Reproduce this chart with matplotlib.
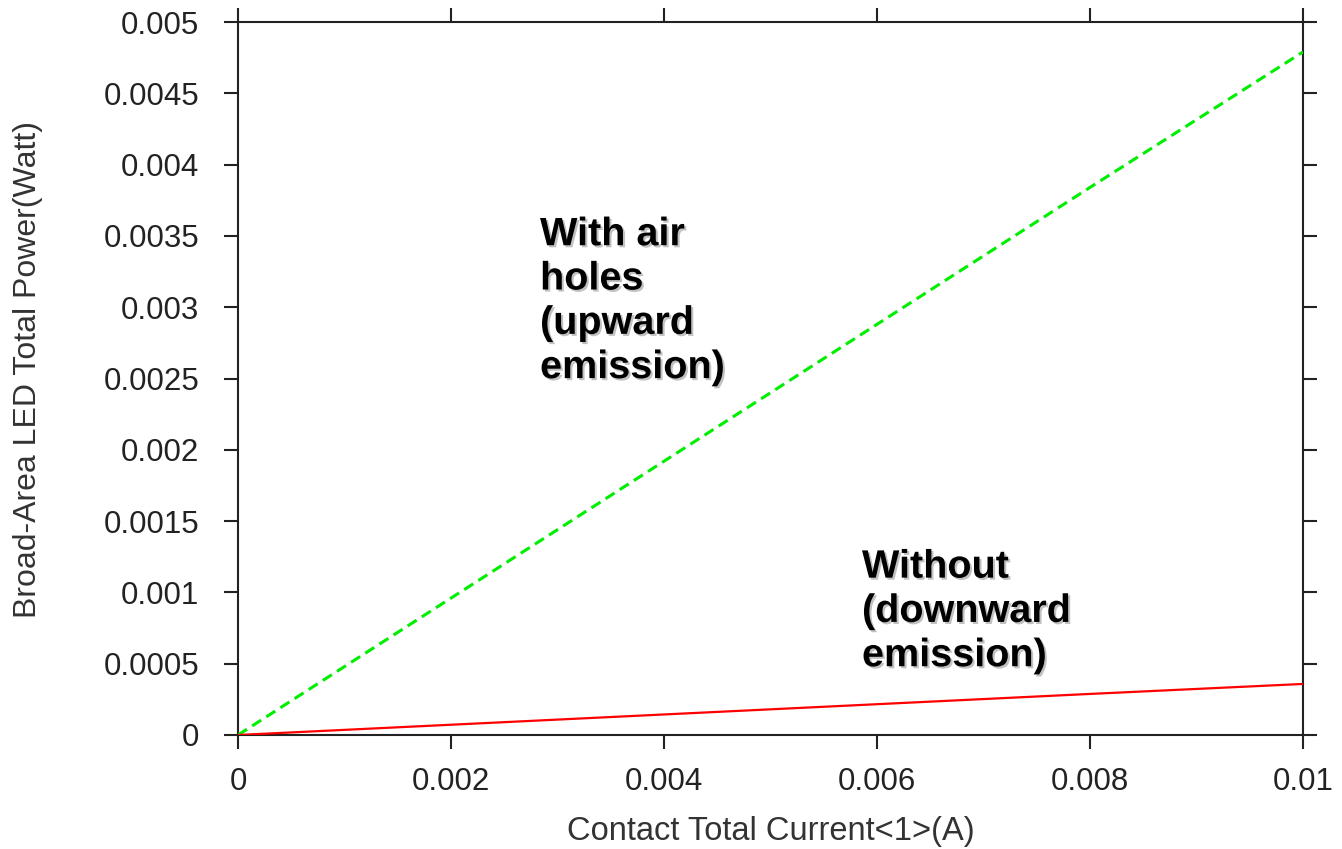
import matplotlib
matplotlib.use("Agg")
import matplotlib.pyplot as plt
import matplotlib.patheffects as pe

current = [0.0, 0.002, 0.004, 0.006, 0.008, 0.010]
power_air_holes = [0.0, 0.00096, 0.00192, 0.00288, 0.00384, 0.00479]
power_without = [0.0, 0.000072, 0.000144, 0.000216, 0.000288, 0.000358]

xticks = [0.0, 0.002, 0.004, 0.006, 0.008, 0.010]
xtick_labels = ["0", "0.002", "0.004", "0.006", "0.008", "0.01"]
yticks = [0.0, 0.0005, 0.001, 0.0015, 0.002, 0.0025, 0.003, 0.0035, 0.004, 0.0045, 0.005]
ytick_labels = ["0", "0.0005", "0.001", "0.0015", "0.002", "0.0025", "0.003",
                "0.0035", "0.004", "0.0045", "0.005"]

plt.rcParams['font.family'] = ['Liberation Sans', 'DejaVu Sans']

fig = plt.figure(figsize=(13.42, 8.49), dpi=100)
ax = fig.add_axes([238/1342, 1 - 735/849, (1303-238)/1342, (735-22)/849])

ax.plot(current, power_air_holes, color='#00ee00', lw=2.2, dashes=(3.5, 2), zorder=3)
ax.plot(current, power_without, color='#ff0000', lw=1.6, zorder=3)

ax.set_xlim(0, 0.01)
ax.set_ylim(0, 0.005)
ax.set_xticks(xticks)
ax.set_xticklabels(xtick_labels)
ax.set_yticks(yticks)
ax.set_yticklabels(ytick_labels)

for s in ax.spines.values():
    s.set_linewidth(1.5)
    s.set_color('#222222')

ax.tick_params(axis='both', which='major', direction='out', length=10, width=1.5,
               color='#222222', labelsize=22.5, labelcolor='#222222',
               top=True, right=True)
ax.tick_params(axis='x', pad=13)
ax.tick_params(axis='y', pad=18)

ax.set_xlabel("Contact Total Current<1>(A)", fontsize=23.5, color='#333333', labelpad=14)
ax.set_ylabel("Broad-Area LED Total Power(Watt)", fontsize=23, color='#333333')
ax.yaxis.set_label_coords(-0.183, 0.513)

shadow = [pe.SimplePatchShadow(offset=(1.5, -1.5), shadow_rgbFace='#999999', alpha=0.6), pe.Normal()]
ax.text(0.002836, 0.003645, "With air\nholes\n(upward\nemission)", fontsize=28.5, fontweight='bold',
        va='top', ha='left', linespacing=1.21, path_effects=shadow, zorder=4)
ax.text(0.005859, 0.001314, "Without\n(downward\nemission)", fontsize=28.5, fontweight='bold',
        va='top', ha='left', linespacing=1.21, path_effects=shadow, zorder=4)

fig.savefig("out.png", dpi=100)
